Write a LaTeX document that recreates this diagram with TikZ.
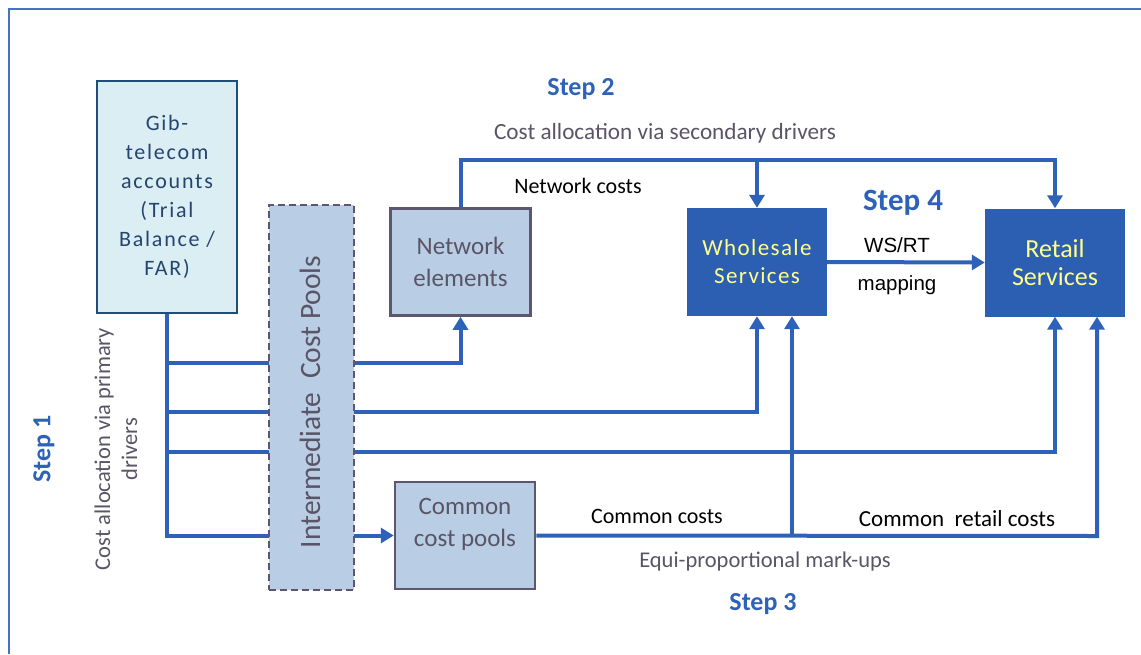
\documentclass[tikz,border=0pt]{standalone}
\usepackage{fontspec}
\setmainfont{Carlito}
\newfontfamily\arialf{Liberation Sans}
\usetikzlibrary{arrows.meta,backgrounds}
\definecolor{framec}{HTML}{4472C4}
\definecolor{connc}{HTML}{2E62B8}
\definecolor{gibfill}{HTML}{DAEEF3}
\definecolor{gibdraw}{HTML}{1F4E79}
\definecolor{gibtext}{HTML}{25456F}
\definecolor{poolfill}{HTML}{B9CDE5}
\definecolor{pooldraw}{HTML}{5E5670}
\definecolor{graytext}{HTML}{5A5566}
\definecolor{wsfill}{HTML}{2C5FB2}
\definecolor{wstext}{HTML}{FFFF8C}
\definecolor{stepc}{HTML}{2E62B8}
\tikzset{
  conn/.style={draw=connc, line width=4pt, line join=miter},
  arr/.style={conn, -{Triangle[width=15pt,length=13pt]}},
  gibbox/.style={draw=gibdraw, fill=gibfill, line width=2.5pt, minimum width=140pt, minimum height=232pt, text=gibtext, align=center, font=\fontsize{22}{29}\selectfont\addfontfeature{LetterSpace=8}},
  poolbox/.style={draw=pooldraw, fill=poolfill, line width=2.5pt, minimum width=140pt, minimum height=107pt, text=graytext, align=center, font=\fontsize{25}{32}\selectfont},
  dashbox/.style={draw=pooldraw, fill=poolfill, line width=2.5pt, dash pattern=on 7pt off 4pt, minimum width=85pt, minimum height=385pt},
  svcbox/.style={fill=wsfill, minimum width=140pt, minimum height=108pt, text=wstext, align=center},
  steplab/.style={text=stepc, font=\fontsize{26}{30}\selectfont\bfseries},
  graylab/.style={text=graytext, font=\fontsize{22.5}{28}\selectfont},
  blacklab/.style={text=black, font=\fontsize{22}{28}\selectfont},
}
\begin{document}
\begin{tikzpicture}[x=1pt,y=-1pt]
\useasboundingbox (0,0) rectangle (1141,654);
\draw[framec, line width=2pt] (9,654) -- (9,9) -- (1141,9);

% nodes
\node[gibbox] (gib) at (167,197) {Gib-\\telecom\\accounts\\(Trial\\Balance /\\FAR)};
\node[dashbox] (pool) at (311.5,397.5) {};
\node[rotate=90, text=graytext, font=\fontsize{29.5}{34}\selectfont] (poolt) at (310,402) {Intermediate\ \ Cost Pools};
\node[poolbox] (ne) at (460.5,262) {Network\\elements};
\node[poolbox] (ccp) at (465,535.5) {};
\node[text=graytext, align=center, font=\fontsize{25}{32}\selectfont] (ccpt) at (465,524) {Common\\cost pools};
\node[svcbox, font=\fontsize{23}{28}\selectfont\addfontfeature{LetterSpace=6}] (ws) at (757,262) {Wholesale\\Services};
\node[svcbox, font=\fontsize{26}{28}\selectfont] (rs) at (1055,262.5) {Retail\\Services};

% labels
\node[steplab] (s2) at (581,89) {Step 2};
\node[graylab, font=\fontsize{23.2}{28}\selectfont] (sec) at (665,133) {Cost allocation via secondary drivers};
\node[blacklab] (nc) at (578,186) {Network costs};
\node[steplab, font=\fontsize{31}{34}\selectfont\bfseries] (s4) at (903,203) {Step 4};
\node[text=black, font=\arialf\fontsize{20.5}{24}\selectfont] (wsrt) at (897,245) {WS/RT};
\node[text=black, font=\arialf\fontsize{20.5}{24}\selectfont] (map) at (897,285) {mapping};
\node[steplab, rotate=90] (s1) at (44,449) {Step 1};
\node[graylab, rotate=90, align=center, font=\fontsize{22.5}{27}\selectfont] (prim) at (116,449) {Cost allocation via primary\\drivers};
\node[blacklab] (cc) at (657,516) {Common costs};
\node[blacklab, font=\fontsize{23}{28}\selectfont] (crc) at (957,519) {Common\ \ retail costs};
\node[graylab] (eq) at (765,561) {Equi-proportional mark-ups};
\node[steplab] (s3) at (763,604) {Step 3};

% junction coordinates
\coordinate (j1) at (167,363);
\coordinate (j2) at (167,412);
\coordinate (j3) at (167,452);
\coordinate (k1) at (1097,536);
\coordinate (k2) at (792,536);
\coordinate (t1) at (1055,160);
\coordinate (t2) at (757,160);

\begin{pgfonlayer}{background}
\draw[arr] (gib.south) |- (ccp.west);
\draw[arr] (j1) -| (ne.south);
\draw[arr] (j2) -| (ws.south);
\draw[arr] (j3) -| (rs.south);
\draw[arr] (ccp.east) -- (k1) -- (rs.south -| k1);
\draw[arr] (k2) -- (ws.south -| k2);
\draw[arr] (ne.north) |- (t1) -- (rs.north);
\draw[arr] (t2) -- (ws.north);
\draw[arr] (ws.east) -- (rs.west);
\end{pgfonlayer}
\end{tikzpicture}
\end{document}
